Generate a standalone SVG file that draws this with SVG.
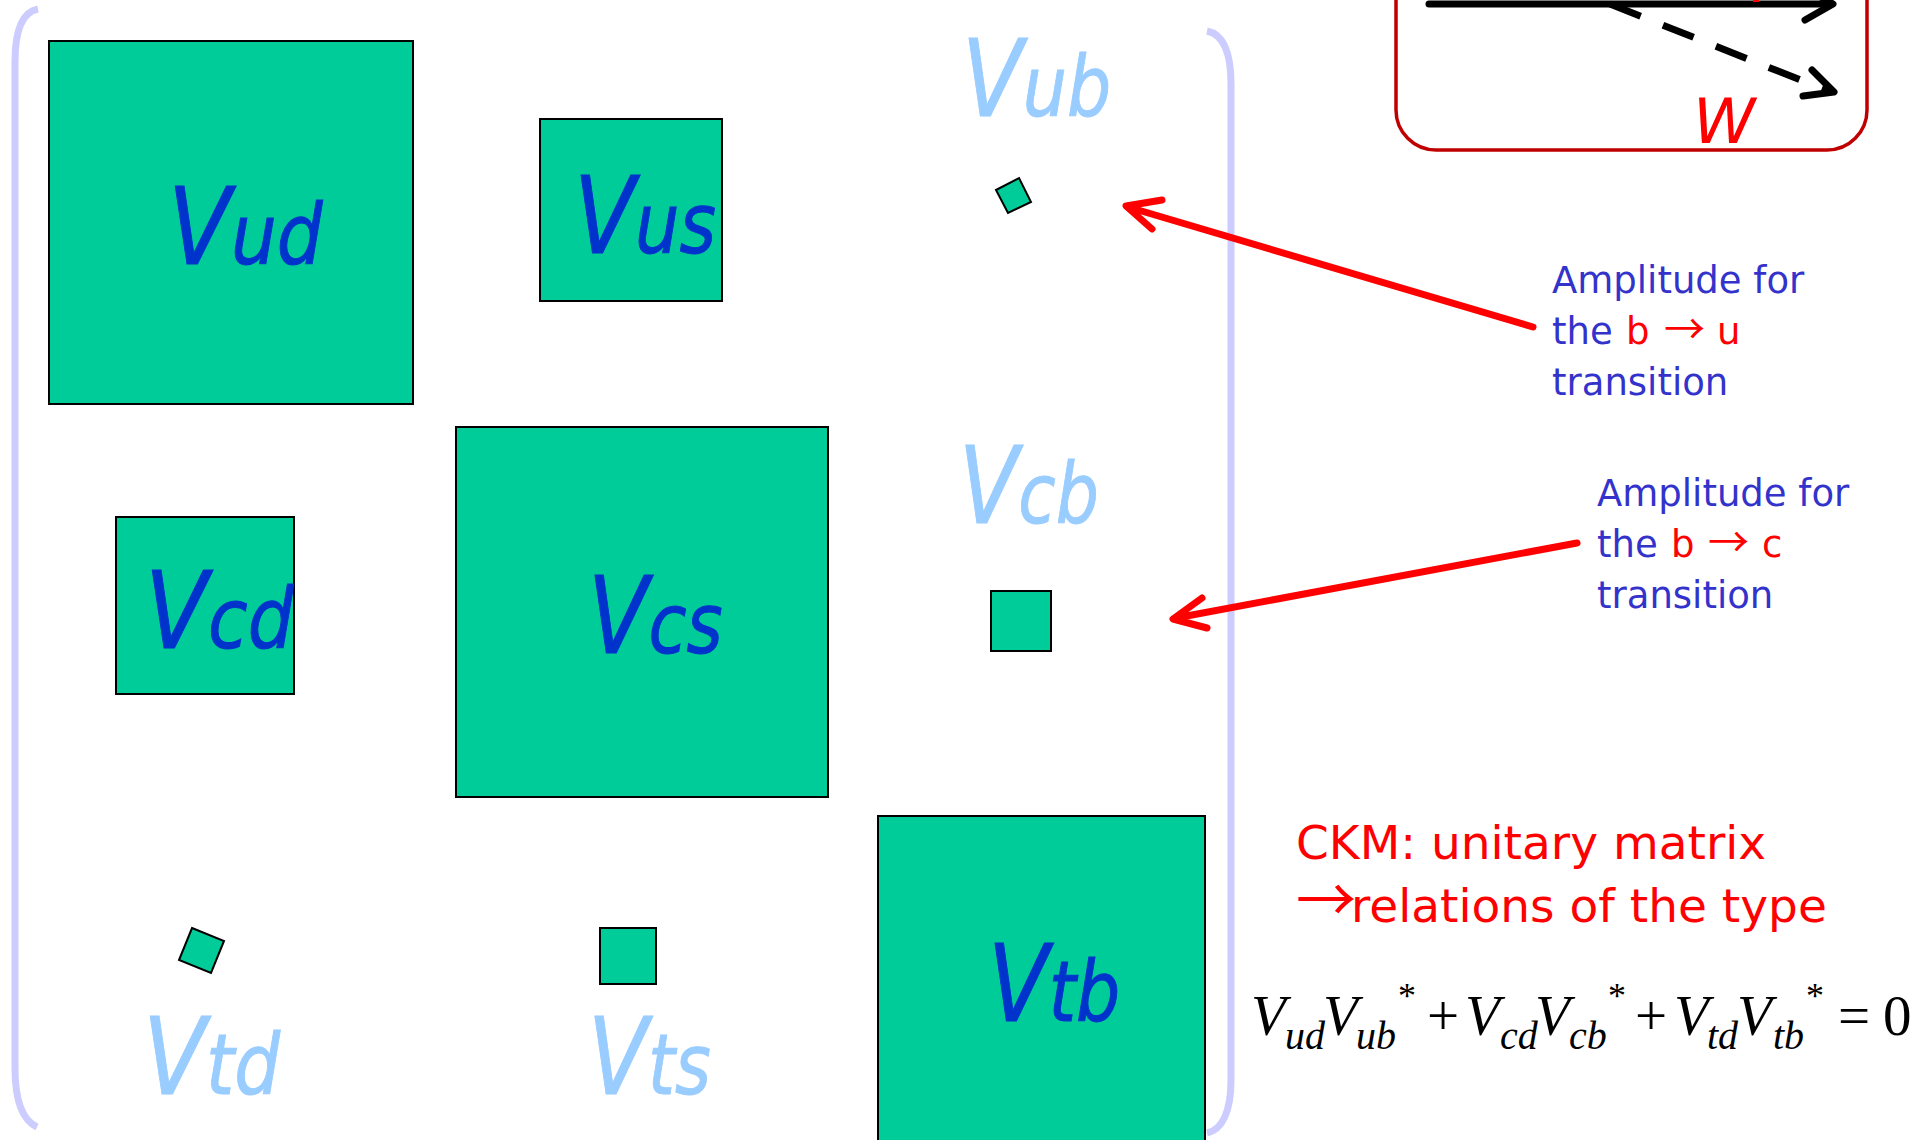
<svg xmlns="http://www.w3.org/2000/svg" width="1923" height="1140" viewBox="0 0 1923 1140">
<defs>
<style>
.box{fill:#00CC99;stroke:#000;stroke-width:2}
.lbl{font-family:"DejaVu Sans","Liberation Sans",sans-serif;font-style:italic;font-size:84px;stroke-width:1}
.big{font-size:107px}
.dk{fill:#0033CC;stroke:#0033CC}
.lt{fill:#99CCFF;stroke:#99CCFF}
.brk{fill:none;stroke:#CCCCFF;stroke-width:7}
.note{font-family:"DejaVu Sans","Liberation Sans",sans-serif;font-size:37px;fill:#3333CC}
.red{fill:#FF0000}
.arr{font-family:"Noto Sans CJK SC","DejaVu Sans",sans-serif}
.ckm{font-family:"DejaVu Sans","Liberation Sans",sans-serif;font-size:47px;fill:#FF0000}
.conn{fill:none;stroke:#FF0000;stroke-width:7;stroke-linecap:round;stroke-linejoin:round}
.eq{font-family:"Liberation Serif","Times New Roman",serif;fill:#000}
.eqi{font-style:italic}
.blk{fill:none;stroke:#000;stroke-width:7;stroke-linecap:round;stroke-linejoin:round}
</style>
</defs>
<rect width="1923" height="1140" fill="#fff"/>

<g id="brackets">
<path class="brk" d="M38 9 C22 12 15 30 15 62 L15 1068 C15 1100 22 1120 37 1127"/>
<path class="brk" d="M1207 31 C1222 34 1231 50 1231 84 L1231 1080 C1231 1112 1222 1130 1207 1133"/>
</g>

<g id="node-Vud">
<rect class="box" x="49" y="41" width="364" height="363"/>
<text class="lbl dk" transform="translate(168,264) scale(0.86,1)"><tspan class="big">V</tspan>ud</text>
</g>
<g id="node-Vus">
<rect class="box" x="540" y="119" width="182" height="182"/>
<text class="lbl dk" transform="translate(574,253) scale(0.835,1)"><tspan class="big">V</tspan>us</text>
</g>
<g id="node-Vub">
<polygon class="box" points="996,190 1019,178 1031,202 1008,213"/>
<text class="lbl lt" transform="translate(962,116) scale(0.83,1)"><tspan class="big">V</tspan>ub</text>
</g>
<g id="node-Vcd">
<rect class="box" x="116" y="517" width="178" height="177"/>
<text class="lbl dk" transform="translate(145,648) scale(0.86,1)"><tspan class="big">V</tspan>cd</text>
</g>
<g id="node-Vcs">
<rect class="box" x="456" y="427" width="372" height="370"/>
<text class="lbl dk" transform="translate(588,653) scale(0.826,1)"><tspan class="big">V</tspan>cs</text>
</g>
<g id="node-Vcb">
<rect class="box" x="991" y="591" width="60" height="60"/>
<text class="lbl lt" transform="translate(959,523) scale(0.811,1)"><tspan class="big">V</tspan>cb</text>
</g>
<g id="node-Vtd">
<polygon class="box" points="192,928 224,941 211,973 179,960"/>
<text class="lbl lt" transform="translate(143,1094) scale(0.86,1)"><tspan class="big">V</tspan>td</text>
</g>
<g id="node-Vts">
<rect class="box" x="600" y="928" width="56" height="56"/>
<text class="lbl lt" transform="translate(588,1094) scale(0.82,1)"><tspan class="big">V</tspan>ts</text>
</g>
<g id="node-Vtb">
<rect class="box" x="878" y="816" width="327" height="340"/>
<text class="lbl dk" transform="translate(988,1021) scale(0.83,1)"><tspan class="big">V</tspan>tb</text>
</g>

<g id="w-diagram">
<rect x="1396" y="-60" width="471" height="210" rx="40" ry="40" fill="none" stroke="#C00000" stroke-width="3.5"/>
<line class="blk" x1="1429" y1="4" x2="1830" y2="4" stroke-linecap="butt"/>
<polyline class="blk" points="1805,-12 1833,4 1805,20"/>
<line x1="1610" y1="4" x2="1828" y2="91" stroke="#000" stroke-width="7" stroke-dasharray="33 24"/>
<polyline class="blk" points="1812,70 1834,92 1803,96"/>
<rect x="1753" y="0" width="6" height="2" fill="#FF0000"/>
<text x="1693" y="143" font-family="DejaVu Sans,Liberation Sans,sans-serif" font-style="italic" font-size="63" fill="#FF0000">W</text>
</g>

<g id="connectors">
<path class="conn" d="M1533 327 L1128 207 M1162 200 L1126 206 L1152 229"/>
<path class="conn" d="M1577 543 L1176 618 M1202 598 L1173 619 L1207 628"/>
</g>

<g id="note-bu">
<text class="note" x="1552" y="293">Amplitude for</text>
<text class="note" x="1552" y="344">the <tspan class="red" x="1626">b</tspan><tspan class="red arr" x="1664" font-size="41">→</tspan><tspan class="red" x="1717">u</tspan></text>
<text class="note" x="1552" y="395">transition</text>
</g>
<g id="note-bc">
<text class="note" x="1597" y="506">Amplitude for</text>
<text class="note" x="1597" y="557">the <tspan class="red" x="1671">b</tspan><tspan class="red arr" x="1708" font-size="41">→</tspan><tspan class="red" x="1762">c</tspan></text>
<text class="note" x="1597" y="608">transition</text>
</g>

<g id="ckm-text">
<text class="ckm" x="1296" y="859">CKM: unitary matrix</text>
<text class="ckm" x="1296" y="922"><tspan class="arr" font-size="60">→</tspan><tspan x="1351">relations of the type</tspan></text>
</g>

<g id="equation" class="eq">
<text class="eq eqi" font-size="57" x="1251" y="1035">V</text>
<text class="eq eqi" font-size="40" x="1285" y="1049">ud</text>
<text class="eq eqi" font-size="57" x="1323" y="1035">V</text>
<text class="eq eqi" font-size="40" x="1356" y="1049">ub</text>
<text class="eq" font-size="36" x="1398" y="1008">*</text>
<text class="eq" font-size="57" x="1427" y="1035">+</text>
<text class="eq eqi" font-size="57" x="1465" y="1035">V</text>
<text class="eq eqi" font-size="40" x="1500" y="1049">cd</text>
<text class="eq eqi" font-size="57" x="1535" y="1035">V</text>
<text class="eq eqi" font-size="40" x="1569" y="1049">cb</text>
<text class="eq" font-size="36" x="1608" y="1008">*</text>
<text class="eq" font-size="57" x="1635" y="1035">+</text>
<text class="eq eqi" font-size="57" x="1674" y="1035">V</text>
<text class="eq eqi" font-size="40" x="1707" y="1049">td</text>
<text class="eq eqi" font-size="57" x="1737" y="1035">V</text>
<text class="eq eqi" font-size="40" x="1773" y="1049">tb</text>
<text class="eq" font-size="36" x="1806" y="1008">*</text>
<text class="eq" font-size="57" x="1838" y="1035">=</text>
<text class="eq" font-size="57" x="1883" y="1035">0</text>
</g>
</svg>
